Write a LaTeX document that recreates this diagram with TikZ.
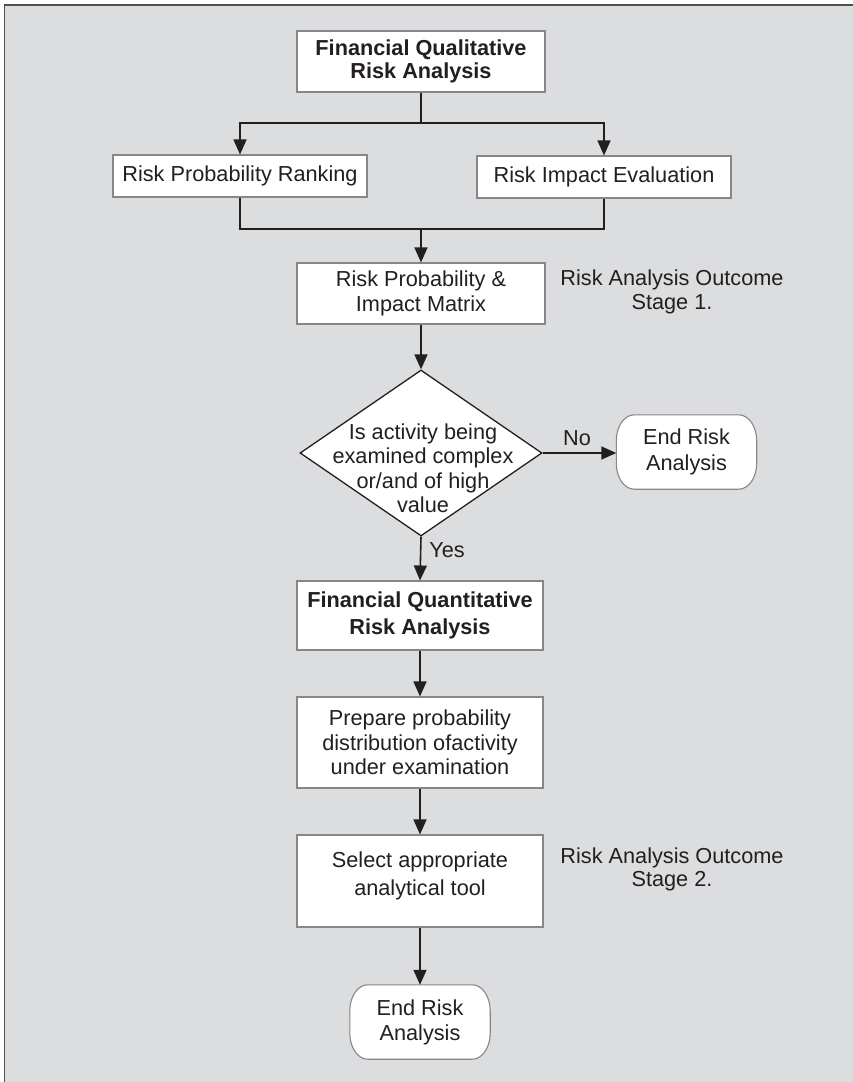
\documentclass[tikz,border=0pt]{standalone}
\usepackage{fontspec}
\setmainfont{Liberation Sans}
\usetikzlibrary{arrows.meta,shapes.geometric}
\definecolor{panel}{RGB}{220,221,223}
\definecolor{ink}{RGB}{35,31,32}
\definecolor{boxgray}{RGB}{135,135,137}
\definecolor{framegray}{RGB}{80,80,82}
\pgfdeclarelayer{back}
\pgfsetlayers{back,main}
% outline of a terminal node: flat top and bottom, elliptical corners
\newcommand\terminaloutline[1]{%
  \draw[termline]
    ([xshift=18pt]#1.north west) -- ([xshift=-18pt]#1.north east)
    .. controls ([xshift=-8pt]#1.north east) and ([yshift=-11.6pt]#1.north east) .. ([yshift=-26pt]#1.north east)
    -- ([yshift=26pt]#1.south east)
    .. controls ([yshift=11.6pt]#1.south east) and ([xshift=-8pt]#1.south east) .. ([xshift=-18pt]#1.south east)
    -- ([xshift=18pt]#1.south west)
    .. controls ([xshift=8pt]#1.south west) and ([yshift=11.6pt]#1.south west) .. ([yshift=26pt]#1.south west)
    -- ([yshift=-26pt]#1.north west)
    .. controls ([yshift=-11.6pt]#1.north west) and ([xshift=8pt]#1.north west) .. ([xshift=18pt]#1.north west)
    -- cycle;}
\begin{document}
\begin{tikzpicture}[x=1pt,y=-1pt,
  every node/.style={text=ink, font=\fontsize{21.7}{24.5}\selectfont},
  box/.style={draw=boxgray, fill=white, line width=1.1pt, align=center, inner sep=0pt},
  termnode/.style={align=center, inner sep=0pt, minimum width=140pt, minimum height=74pt},
  termline/.style={draw=boxgray, fill=white, line width=1.1pt},
  plain/.style={align=center, inner sep=0pt},
  conn/.style={draw=ink, line width=1.6pt},
  arr/.style={conn, -{Triangle[length=15pt,width=13pt]}}]
\useasboundingbox (0,0) rectangle (853,1082);
\begin{pgfonlayer}{back}
  \fill[white] (0,0) rectangle (853,1082);
  \fill[panel] (4.7,5) rectangle (853,1082);
  \draw[framegray, line width=1.5pt] (4.7,1082) -- (4.7,5) -- (853,5);
\end{pgfonlayer}

% stage 1: qualitative analysis
\node[box, minimum width=248pt, minimum height=61pt,
      font=\fontsize{21.7}{23.5}\selectfont\bfseries] (qual) at (421,61.5)
  {Financial Qualitative\\Risk Analysis};
\node[box, minimum width=254pt, minimum height=42pt] (rank) at (240,176) {Risk Probability Ranking};
\node[box, minimum width=254pt, minimum height=42pt] (impact) at (604,177) {Risk Impact Evaluation};
\node[box, minimum width=248pt, minimum height=61pt] (matrix) at (421,293.5)
  {Risk Probability \&\\Impact Matrix};
\node[plain, font=\fontsize{21.7}{23.5}\selectfont] (stage1) at (672,292)
  {Risk Analysis Outcome\\Stage 1.};

% decision
\node[draw=ink, fill=white, line width=1.3pt, diamond, inner sep=0pt,
      minimum width=242pt, minimum height=166pt] (dec) at (421,453) {};
\node[plain] (dectext) at (423,468)
  {Is activity being\\examined complex\\or/and of high\\value};
\node[termnode, font=\fontsize{21.7}{26.5}\selectfont] (end1) at (686.5,452) {End Risk\\Analysis};
\node[plain] (no) at (577,438) {No};
\node[plain] (yes) at (447,550) {Yes};

% stage 2: quantitative analysis
\node[box, minimum width=246pt, minimum height=69pt,
      font=\fontsize{21.7}{27}\selectfont\bfseries] (quant) at (420,615.5)
  {Financial Quantitative\\Risk Analysis};
\node[box, minimum width=246pt, minimum height=91pt] (prep) at (420,742.5)
  {Prepare probability\\distribution ofactivity\\under examination};
\node[box, minimum width=246pt, minimum height=92pt] (select) at (420,881) {};
\node[plain, font=\fontsize{21.7}{28}\selectfont] (selecttext) at (420,876)
  {Select appropriate\\analytical tool};
\node[plain, font=\fontsize{21.7}{23}\selectfont] (stage2) at (672,869)
  {Risk Analysis Outcome\\Stage 2.};
\node[termnode, font=\fontsize{21.7}{25}\selectfont] (end2) at (420,1022) {End Risk\\Analysis};

% terminal outlines behind their text
\begin{pgfonlayer}{back}
  \terminaloutline{end1}
  \terminaloutline{end2}
\end{pgfonlayer}

% connectors
\coordinate (split) at (421,123);
\coordinate (merge) at (421,229);
\draw[conn] (qual.south) -- (split);
\draw[arr] (split) -| (rank.north);
\draw[arr] (split) -| (impact.north);
\draw[conn] (rank.south) |- (merge);
\draw[conn] (impact.south) |- (merge);
\draw[arr] (merge) -- (matrix.north);
\draw[arr] (matrix.south) -- (dec.north);
\draw[arr] (dec.east) -- (end1.west |- dec.east);
\draw[arr] (dec.south) -- (quant.north);
\draw[arr] (quant.south) -- (prep.north);
\draw[arr] (prep.south) -- (select.north);
\draw[arr] (select.south -| end2.north) -- (end2.north);
\end{tikzpicture}
\end{document}
